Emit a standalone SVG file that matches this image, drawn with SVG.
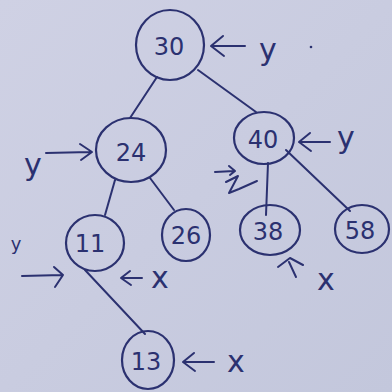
<svg xmlns="http://www.w3.org/2000/svg" width="392" height="392" viewBox="0 0 392 392">
<style>
.n{fill:none;stroke:#2b3170;stroke-width:2.2}
.t{font-family:"DejaVu Sans","Liberation Sans",sans-serif;font-size:24px;fill:#2b3170;text-anchor:middle}
.l{font-family:"DejaVu Sans","Liberation Sans",sans-serif;font-size:30px;fill:#2b3170;text-anchor:middle}
.c{fill:none;stroke:#2b3170;stroke-width:2;stroke-linecap:round;stroke-linejoin:round}
</style>
<defs>
<linearGradient id="bg" x1="0" y1="0" x2="1" y2="1">
<stop offset="0" stop-color="#cfd1e4"/>
<stop offset="1" stop-color="#c3c7dc"/>
</linearGradient>
</defs>
<rect width="392" height="392" fill="url(#bg)"/>
<g id="connectors">
<path class="c" d="M157 77 L130 118"/>
<path class="c" d="M198 70 L256 112"/>
<path class="c" d="M115 180 L105 215"/>
<path class="c" d="M150 178 L174 210"/>
<path class="c" d="M268 163 L266 215"/>
<path class="c" d="M286 150 L350 211"/>
<path class="c" d="M85 270 L145 334"/>
</g>
<g id="node30"><ellipse class="n" cx="170" cy="45" rx="34" ry="35"/><text class="t" x="169" y="55">30</text></g>
<g id="node24"><ellipse class="n" cx="131" cy="150" rx="35" ry="32"/><text class="t" x="131" y="161">24</text></g>
<g id="node40"><ellipse class="n" cx="264" cy="138" rx="30" ry="26"/><text class="t" x="263" y="148">40</text></g>
<g id="node11"><ellipse class="n" cx="95" cy="243" rx="29" ry="28"/><text class="t" x="90" y="252">11</text></g>
<g id="node26"><ellipse class="n" cx="186" cy="235" rx="24" ry="26"/><text class="t" x="186" y="244">26</text></g>
<g id="node38"><ellipse class="n" cx="270" cy="230" rx="30" ry="25"/><text class="t" x="268" y="240">38</text></g>
<g id="node58"><ellipse class="n" cx="362" cy="229" rx="27" ry="24"/><text class="t" x="360" y="239">58</text></g>
<g id="node13"><ellipse class="n" cx="148" cy="360" rx="26" ry="29"/><text class="t" x="146" y="370">13</text></g>
<g id="pointers">
<path class="c" d="M245 46 L212 46 M223 36 L211 46 L224 56"/>
<text class="l" x="268" y="60">y</text>
<circle cx="311" cy="47" r="1.3" fill="#2b3170"/>
<path class="c" d="M330 142 L300 142 M310 133 L299 142 L311 151"/>
<text class="l" x="346" y="148">y</text>
<path class="c" d="M46 153 L90 152 M80 144 L92 152 L81 160"/>
<text class="l" x="33" y="175">y</text>
<path class="c" d="M215 172 L234 171 M229 166 L235 171 L230 175"/>
<path class="c" d="M226 182 L238 176 L229 193 L239 189 L257 181"/>
<text class="t" x="16" y="250" style="font-size:18px">y</text>
<path class="c" d="M22 276 L62 275 M54 267 L63 275 L55 287"/>
<path class="c" d="M142 278 L122 278 M130 271 L121 278 L131 285"/>
<text class="l" x="160" y="288">x</text>
<path class="c" d="M278 267 L290 258 L303 265 M289 262 L296 277"/>
<text class="l" x="326" y="290">x</text>
<path class="c" d="M214 362 L184 362 M194 353 L183 362 L195 371"/>
<text class="l" x="236" y="372">x</text>
</g>
</svg>
